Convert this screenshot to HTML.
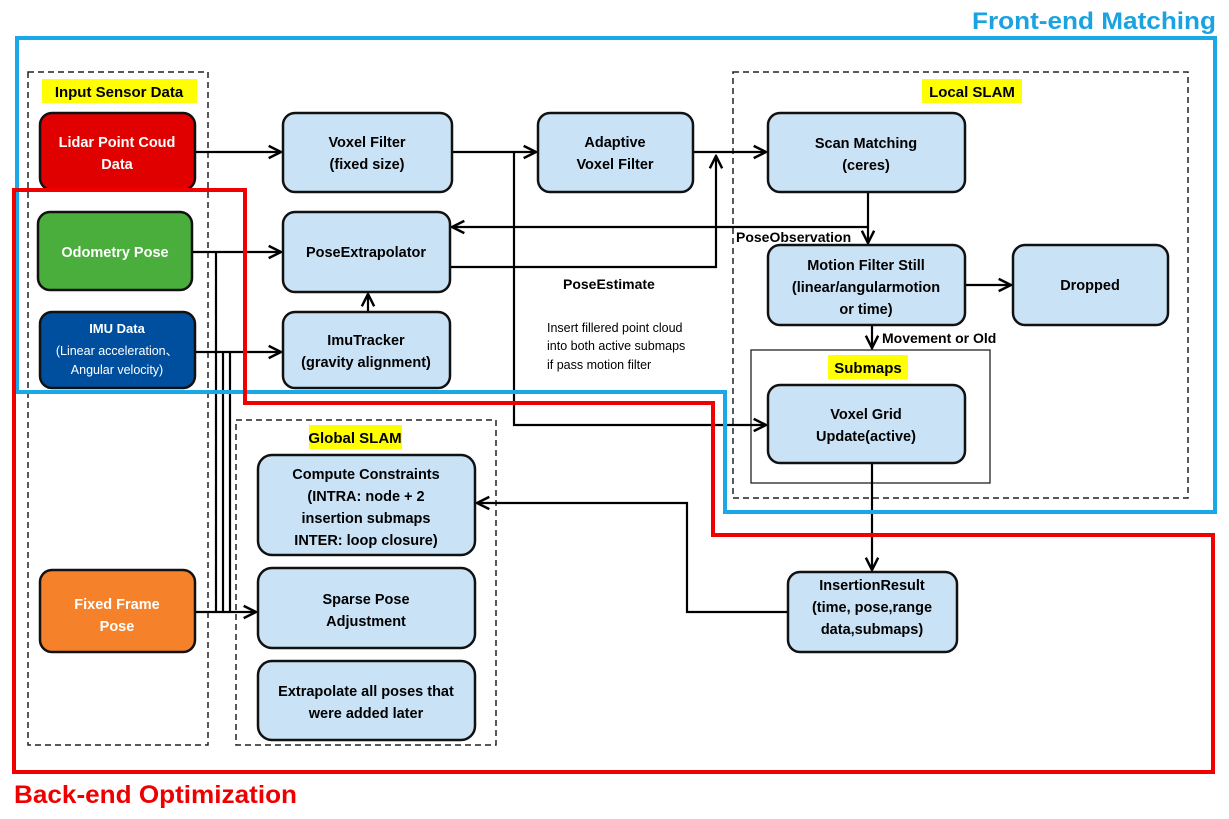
<!DOCTYPE html>
<html><head><meta charset="utf-8"><style>
body{margin:0;background:#fff;}
svg text{font-family:"Liberation Sans",sans-serif;}
</style></head><body>
<svg width="1229" height="814" viewBox="0 0 1229 814" xmlns="http://www.w3.org/2000/svg">
<defs>
<marker id="a" viewBox="0 0 10 10" refX="9" refY="5" markerWidth="7" markerHeight="7" orient="auto"><path d="M1,1 L9,5 L1,9" fill="none" stroke="#000" stroke-width="1.6"/></marker>
</defs>
<g fill="none" stroke="#222" stroke-width="1.5" stroke-dasharray="6,4">
<rect x="28" y="72" width="180" height="673"/>
<rect x="733" y="72" width="455" height="426"/>
<rect x="236" y="420" width="260" height="325"/>
</g>
<rect x="751" y="350" width="239" height="133" fill="none" stroke="#222" stroke-width="1.3"/>
<rect x="42" y="79" width="155" height="24" fill="#ffff00"/>
<text x="119" y="97" font-size="15" font-weight="bold" text-anchor="middle">Input Sensor Data</text>
<rect x="922" y="79" width="100" height="24" fill="#ffff00"/>
<text x="972" y="97" font-size="15" font-weight="bold" text-anchor="middle">Local SLAM</text>
<rect x="309" y="425" width="93" height="24" fill="#ffff00"/>
<text x="355" y="443" font-size="15" font-weight="bold" text-anchor="middle">Global SLAM</text>
<rect x="828" y="355" width="80" height="24" fill="#ffff00"/>
<text x="868" y="373" font-size="15" font-weight="bold" text-anchor="middle">Submaps</text>
<g fill="none" stroke="#000" stroke-width="2.2">
<path d="M195,152 H281" marker-end="url(#a)"/>
<path d="M452,152 H536" marker-end="url(#a)"/>
<path d="M514,152 V425 H766" marker-end="url(#a)"/>
<path d="M693,152 H766" marker-end="url(#a)"/>
<path d="M450,267 H716 V156" marker-end="url(#a)"/>
<path d="M868,192 V243" marker-end="url(#a)"/>
<path d="M868,227 H452" marker-end="url(#a)"/>
<path d="M965,285 H1011" marker-end="url(#a)"/>
<path d="M872,325 V348" marker-end="url(#a)"/>
<path d="M872,463 V570" marker-end="url(#a)"/>
<path d="M788,612 H687 V503 H477" marker-end="url(#a)"/>
<path d="M192,252 H281" marker-end="url(#a)"/>
<path d="M195,352 H281" marker-end="url(#a)"/>
<path d="M368,312 V294" marker-end="url(#a)"/>
<path d="M195,612 H256" marker-end="url(#a)"/>
<path d="M216,252 V612"/>
<path d="M223,352 V612"/>
<path d="M230,352 V612"/>
</g>
<g stroke="#111" stroke-width="2.5">
<rect x="40" y="113" width="155" height="77" rx="12" fill="#e00000"/>
<rect x="38" y="212" width="154" height="78" rx="12" fill="#4aae3c"/>
<rect x="40" y="312" width="155" height="76" rx="12" fill="#004f9f"/>
<rect x="40" y="570" width="155" height="82" rx="12" fill="#f5822a"/>
<g fill="#c9e2f5">
<rect x="283" y="113" width="169" height="79" rx="12"/>
<rect x="283" y="212" width="167" height="80" rx="12"/>
<rect x="283" y="312" width="167" height="76" rx="12"/>
<rect x="538" y="113" width="155" height="79" rx="12"/>
<rect x="768" y="113" width="197" height="79" rx="12"/>
<rect x="768" y="245" width="197" height="80" rx="12"/>
<rect x="1013" y="245" width="155" height="80" rx="12"/>
<rect x="768" y="385" width="197" height="78" rx="12"/>
<rect x="258" y="455" width="217" height="100" rx="14"/>
<rect x="258" y="568" width="217" height="80" rx="14"/>
<rect x="258" y="661" width="217" height="79" rx="14"/>
<rect x="788" y="572" width="169" height="80" rx="12"/>
</g></g>
<g font-size="14.5" font-weight="bold" text-anchor="middle">
<g fill="#fff">
<text x="117" y="147">Lidar Point Coud</text><text x="117" y="169">Data</text>
<text x="115" y="257">Odometry Pose</text>
<text x="117" y="609">Fixed Frame</text><text x="117" y="631">Pose</text>
<text x="117" y="333" font-size="13">IMU Data</text>
<text x="117" y="355" font-size="12.5" font-weight="normal">(Linear acceleration、</text>
<text x="117" y="374" font-size="12.5" font-weight="normal">Angular velocity)</text>
</g>
<text x="367" y="147">Voxel Filter</text><text x="367" y="169">(fixed size)</text>
<text x="366" y="257">PoseExtrapolator</text>
<text x="366" y="345">ImuTracker</text><text x="366" y="367">(gravity alignment)</text>
<text x="615" y="147">Adaptive</text><text x="615" y="169">Voxel Filter</text>
<text x="866" y="148">Scan  Matching</text><text x="866" y="170">(ceres)</text>
<text x="866" y="270">Motion Filter Still</text><text x="866" y="292">(linear/angularmotion</text><text x="866" y="314">or time)</text>
<text x="1090" y="290">Dropped</text>
<text x="866" y="419">Voxel Grid</text><text x="866" y="441">Update(active)</text>
<text x="366" y="479">Compute Constraints</text><text x="366" y="501">(INTRA: node + 2</text><text x="366" y="523">insertion submaps</text><text x="366" y="545">INTER: loop closure)</text>
<text x="366" y="604">Sparse Pose</text><text x="366" y="626">Adjustment</text>
<text x="366" y="696">Extrapolate all poses that</text><text x="366" y="718">were added later</text>
<text x="872" y="590">InsertionResult</text><text x="872" y="612">(time, pose,range</text><text x="872" y="634">data,submaps)</text>
</g>
<g font-size="14" font-weight="bold">
<text x="736" y="242">PoseObservation</text>
<text x="563" y="289">PoseEstimate</text>
<text x="882" y="343">Movement or Old</text>
</g>
<g font-size="12.5">
<text x="547" y="332">Insert fillered point cloud</text>
<text x="547" y="350">into both active submaps</text>
<text x="547" y="369">if pass motion filter</text>
</g>
<path d="M17,38 H1215 V512 H725 V392 H17 Z" fill="none" stroke="#1aa8e6" stroke-width="4"/>
<path d="M14,190 H245 V403 H713 V535 H1213 V772 H14 Z" fill="none" stroke="#f00000" stroke-width="4"/>
<text x="1216" y="29" font-size="24" font-weight="bold" fill="#1aa3e0" text-anchor="end" textLength="244" lengthAdjust="spacingAndGlyphs">Front-end Matching</text>
<text x="14" y="803" font-size="25" font-weight="bold" fill="#ee0000" textLength="283" lengthAdjust="spacingAndGlyphs">Back-end Optimization</text>
</svg>
</body></html>
